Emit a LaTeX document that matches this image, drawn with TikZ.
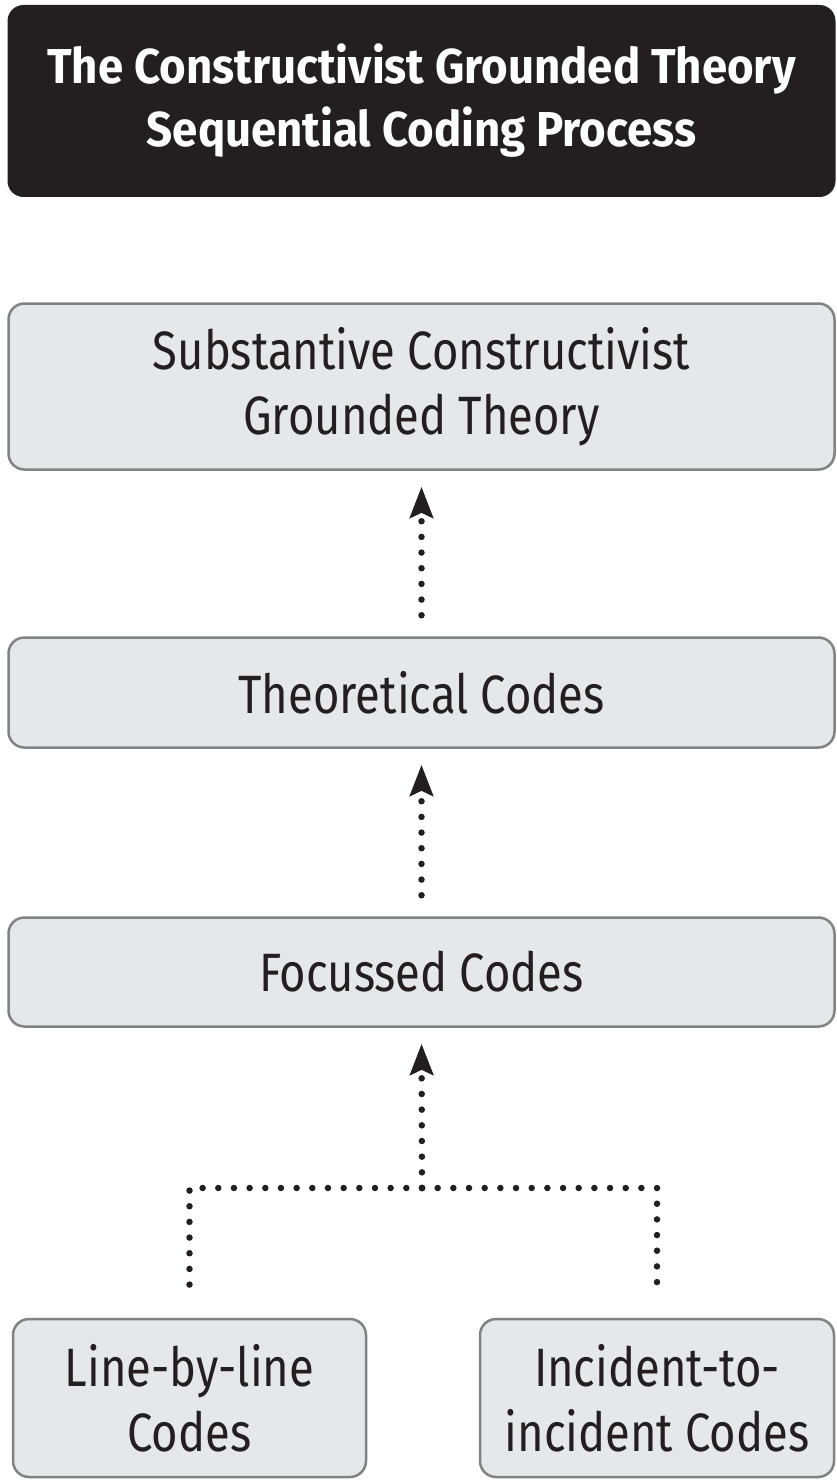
\documentclass[tikz,border=0pt]{standalone}
\usepackage{fontspec}
\setmainfont{Fira Sans}
\newfontfamily\boxfont[FakeStretch=0.84]{Fira Sans}
\newfontfamily\titlefont[FakeStretch=0.93]{Fira Sans}
\usepackage{tikz}
\usetikzlibrary{arrows.meta}
\usetikzlibrary{positioning}
\definecolor{titlebg}{RGB}{35,31,32}
\definecolor{boxbg}{RGB}{230,231,232}
\definecolor{boxline}{RGB}{128,130,133}
\tikzset{code box/.style={rectangle,rounded corners=16pt,fill=boxbg,draw=boxline,line width=2.5pt,
        text=titlebg,align=center,inner sep=0pt,font=\boxfont\fontsize{54}{65}\selectfont},  }

\begin{document}
\begin{tikzpicture}[x=1pt,y=-1pt,
        dots/.style={titlebg,line width=6.5pt,line cap=round,dash pattern=on 0pt off 15.67pt},
        dot arrow/.style={dots,-{Stealth[length=31pt,width=23pt,inset=5pt]},shorten >=16pt}]
    \useasboundingbox (0,0) rectangle (837,1482);
    \node[rectangle,rounded corners=16pt,fill=titlebg,text=white,align=center,
          minimum width=828pt,minimum height=192pt,font=\titlefont\bfseries\fontsize{49}{63}\selectfont]
          (title) at (421.5,101) {The Constructivist Grounded Theory\\Sequential Coding Process};
    \node[code box,minimum width=826pt,minimum height=166pt] (sub) at (421.5,386.5)
          {Substantive Constructivist\\Grounded Theory};
    \node[code box,minimum width=826pt,minimum height=110pt] (theo) at (421.5,692.5) {Theoretical Codes};
    \node[code box,minimum width=826pt,minimum height=109pt] (foc) at (421.5,972) {Focussed Codes};
    \node[code box,minimum width=353pt,minimum height=158pt] (line) at (189.5,1398) {Line-by-line\\Codes};
    \node[code box,minimum width=354pt,minimum height=158pt] (inc) at (657,1398) {Incident-to-\\incident Codes};
    \coordinate (j) at (422,1188);

    \draw[dot arrow,shorten <=21pt] (theo.north) -- (sub.south);
    \draw[dot arrow,shorten <=21pt] (foc.north) -- (theo.south);
    \draw[dot arrow] (j) -- (foc.south);
    \draw[dots,shorten >=28pt] (j) -| (line.north);
    \draw[dots,shorten >=28pt] (j) -| (inc.north);
\end{tikzpicture}
\end{document}
